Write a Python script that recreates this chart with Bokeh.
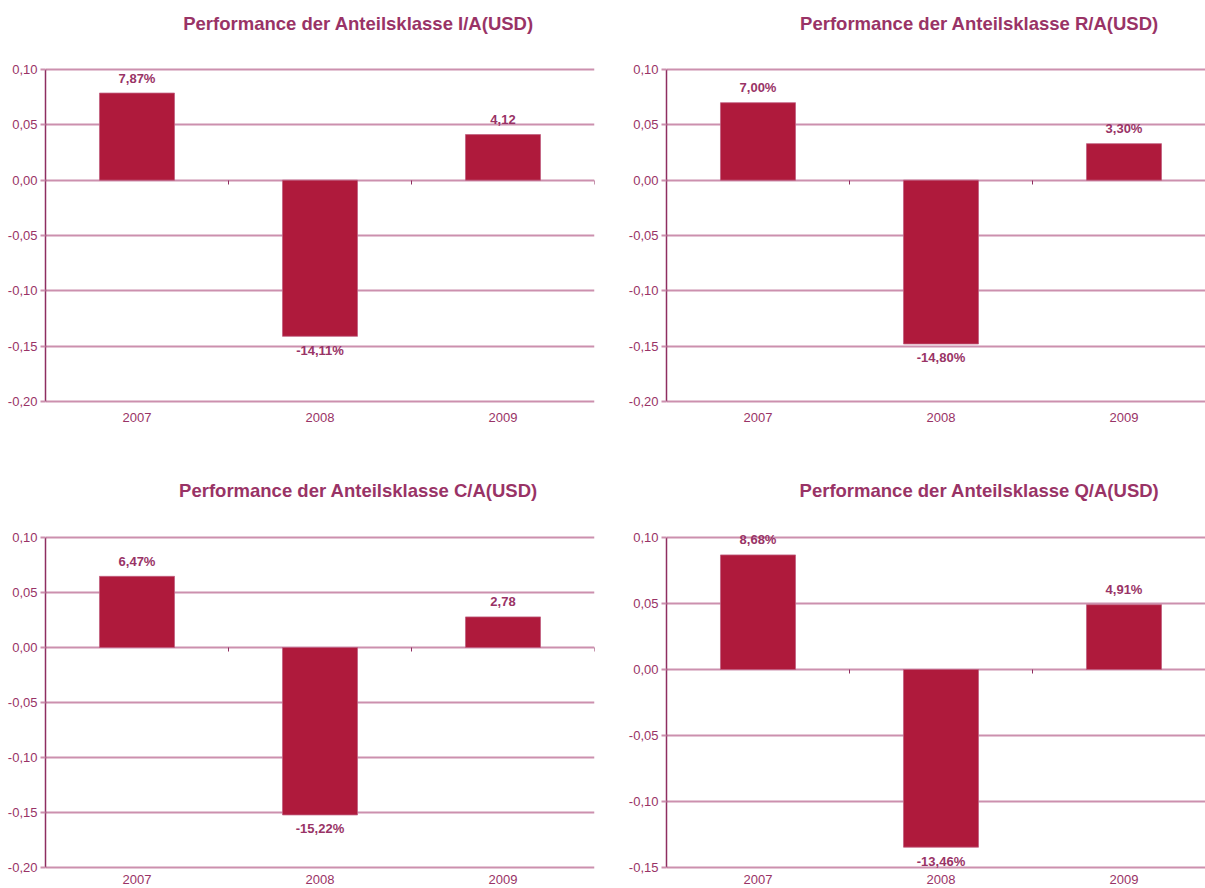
from bokeh.plotting import figure
from bokeh.layouts import column, row
from bokeh.models import (Range1d, FixedTicker, LinearAxis, CustomJSTickFormatter,
                          ColumnDataSource, Grid, LabelSet, Label)
from bokeh.embed import file_html
from bokeh.resources import INLINE
from bokeh.core.properties import value

# ---- data -------------------------------------------------------------
YEARS = ["2007", "2008", "2009"]

TITLE_IA = "Performance der Anteilsklasse I/A(USD)"
RET_IA = [0.0787, -0.1411, 0.0412]
LBL_IA = ["7,87%", "-14,11%", "4,12"]

TITLE_RA = "Performance der Anteilsklasse R/A(USD)"
RET_RA = [0.0700, -0.1480, 0.0330]
LBL_RA = ["7,00%", "-14,80%", "3,30%"]

TITLE_CA = "Performance der Anteilsklasse C/A(USD)"
RET_CA = [0.0647, -0.1522, 0.0278]
LBL_CA = ["6,47%", "-15,22%", "2,78"]

TITLE_QA = "Performance der Anteilsklasse Q/A(USD)"
RET_QA = [0.0868, -0.1346, 0.0491]
LBL_QA = ["8,68%", "-13,46%", "4,91%"]

Y_TICKS_A = [-0.20, -0.15, -0.10, -0.05, 0.00, 0.05, 0.10]
Y_TICKS_B = [-0.15, -0.10, -0.05, 0.00, 0.05, 0.10]

# ---- style ------------------------------------------------------------
FONT = "Liberation Sans"
PLUM = "#993366"
BAR = "#AF1A3C"
GRID = "#CC90AE"
AXIS = "#8E2E60"
CAT_PX = 183        # pixel width of one category slot
TITLE_DX = 313      # heading centre, pixels right of the value axis


def panel(title, rets, labels, yticks, width, height, left, top, bottom,
          title_gap, year_gap):
    """top/bottom: pixels between the canvas edges and the outer gridlines."""
    frame_w = min(width - left, CAT_PX * len(YEARS))
    right = width - left - frame_w
    x_end = frame_w / CAT_PX

    ymin, ymax = min(yticks), max(yticks)
    plot_h = height - top - bottom
    per_px = (ymax - ymin) / plot_h

    p = figure(width=width, height=height, output_backend="svg", toolbar_location=None,
               title=None,
               x_range=Range1d(0, x_end),
               y_range=Range1d(ymin - bottom * per_px, ymax + top * per_px),
               min_border_left=left, min_border_right=right,
               min_border_top=0, min_border_bottom=0,
               x_axis_type=None, y_axis_type=None)
    p.outline_line_color = None
    p.background_fill_color = "white"
    p.border_fill_color = "white"

    # heading
    p.add_layout(Label(x=TITLE_DX / CAT_PX, y=ymax + title_gap * per_px, text=title,
                       text_align="center", text_baseline="middle",
                       text_font=FONT, text_font_size="18.5px", text_font_style="bold",
                       text_color=PLUM))

    xs = [i + 0.5 for i in range(len(YEARS))]
    src = ColumnDataSource(dict(
        x=xs, top=rets, lab=labels,
        off=[15 if v >= 0 else -14 for v in rets],
    ))
    cats = ColumnDataSource(dict(x=xs, y=[ymin] * len(YEARS), year=YEARS))

    # horizontal grid
    p.add_layout(Grid(dimension=1, ticker=FixedTicker(ticks=yticks),
                      grid_line_color=GRID, grid_line_width=1.8))

    # y axis with comma decimals
    yax = LinearAxis(ticker=FixedTicker(ticks=yticks), bounds=(ymin, ymax),
                     formatter=CustomJSTickFormatter(code="return tick.toFixed(2).replace('.', ',')"))
    yax.axis_line_color = AXIS
    yax.axis_line_width = 1.5
    yax.major_tick_line_color = GRID
    yax.major_tick_line_width = 1.8
    yax.major_tick_out = 5
    yax.major_tick_in = 0
    yax.minor_tick_line_color = None
    yax.major_label_text_font = FONT
    yax.major_label_text_font_size = "13px"
    yax.major_label_text_color = PLUM
    yax.major_label_standoff = 3
    p.add_layout(yax, "left")

    # category labels under the lowest gridline
    p.add_layout(LabelSet(x="x", y="y", text="year", y_offset=-year_gap, source=cats,
                          text_align="center", text_baseline="middle",
                          text_font=value(FONT), text_font_size="13px",
                          text_color=PLUM))

    # small separator ticks on the zero line between categories
    sep = LinearAxis(ticker=FixedTicker(ticks=list(range(1, len(YEARS) + 1))), fixed_location=0)
    sep.axis_line_color = None
    sep.major_tick_line_color = AXIS
    sep.major_tick_line_width = 1
    sep.major_tick_out = 4
    sep.major_tick_in = 0
    sep.minor_tick_line_color = None
    sep.major_label_text_color = None
    sep.major_label_text_font_size = "1px"
    sep.major_label_standoff = 0
    p.add_layout(sep, "below")

    p.vbar(x="x", top="top", bottom=0, width=0.41, source=src,
           fill_color=BAR, line_color="#C06080", line_width=0.8)
    p.add_layout(LabelSet(x="x", y="top", text="lab", y_offset="off", source=src,
                          text_align="center", text_baseline="middle",
                          text_font=value(FONT), text_font_size="13px",
                          text_font_style="bold", text_color=PLUM))
    return p


p1 = panel(TITLE_IA, RET_IA, LBL_IA, Y_TICKS_A, 605, 444, 45, 69, 43, 46, 16)
p2 = panel(TITLE_RA, RET_RA, LBL_RA, Y_TICKS_A, 600, 444, 61, 69, 43, 46, 16)
p3 = panel(TITLE_CA, RET_CA, LBL_CA, Y_TICKS_A, 605, 444, 45, 93, 21, 47, 12)
p4 = panel(TITLE_QA, RET_QA, LBL_QA, Y_TICKS_B, 600, 444, 61, 93, 21, 47, 12)

layout = column(row(p1, p2), row(p3, p4))

open("out.html", "w").write(file_html(layout, INLINE))
